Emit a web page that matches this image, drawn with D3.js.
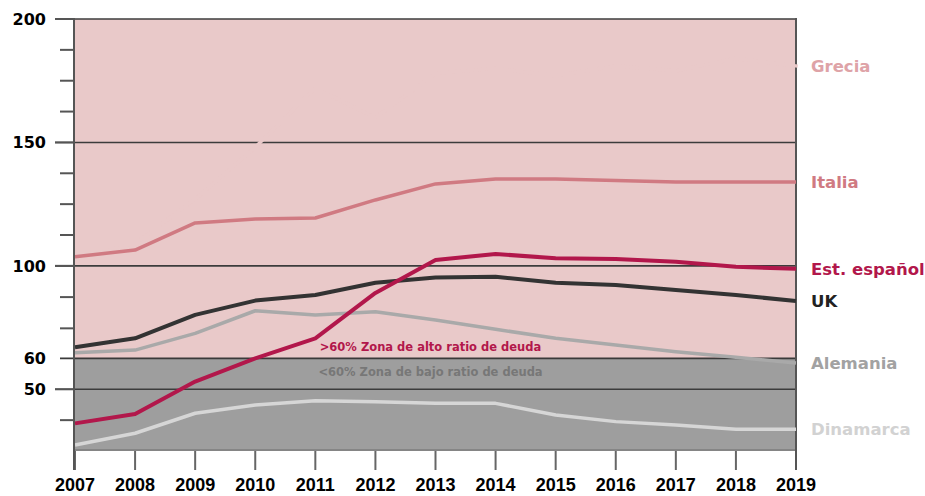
<!DOCTYPE html>
<html>
<head>
<meta charset="utf-8">
<script src="https://cdn.jsdelivr.net/npm/d3@7"></script>
<style>
  html, body { margin: 0; padding: 0; background: #fff; }
  svg { display: block; }
</style>
</head>
<body>
<svg id="chart" width="925" height="496"></svg>
<script>
// Deuda pública (% del PIB), 2007-2019
const years = [2007, 2008, 2009, 2010, 2011, 2012, 2013, 2014, 2015, 2016, 2017, 2018, 2019];
const yearLabels = ["2007", "2008", "2009", "2010", "2011", "2012", "2013", "2014", "2015", "2016", "2017", "2018", "2019"];

const grecia    = [103, 109, 127, 148, 172, 160, 178, 180, 177, 181, 179, 184, 181];
const italia    = [103.7, 106.4, 117.4, 119.0, 119.4, 126.7, 133.2, 135.2, 135.2, 134.6, 134.0, 134.0, 134.0];
const espana    = [36.2, 40.0, 52.5, 60.0, 68.7, 88.3, 102.4, 104.8, 103.1, 102.8, 101.7, 99.6, 98.7];
const uk        = [64.8, 68.7, 78.8, 85.0, 87.4, 92.7, 95.0, 95.3, 92.7, 91.7, 89.6, 87.4, 84.8];
const alemania  = [62.5, 63.6, 70.8, 80.6, 78.8, 80.2, 76.6, 72.6, 68.7, 65.8, 62.9, 60.5, 58.5];
const dinamarca = [27.4, 32.2, 40.3, 43.6, 45.4, 45.0, 44.3, 44.3, 39.6, 36.9, 35.5, 33.8, 33.8];

const seriesNames = ["Grecia", "Italia", "Est. español", "UK", "Alemania", "Dinamarca"];

// Eje vertical
const majorTicks = [200, 150, 100, 50];
const thresholdValue = 60;
const minorTicks = [37.5, 73, 86.5, 112.5, 125, 137.5, 162.5, 175, 187.5];
const zoneLabels = [">60% Zona de alto ratio de deuda", "<60% Zona de bajo ratio de deuda"];

(function () {
  const W = 925, H = 496;
  const margin = { top: 19, right: 129, bottom: 45, left: 75 };
  const pLeft = margin.left, pRight = W - margin.right;
  const pTop = margin.top, pBottom = H - margin.bottom;

  const svg = d3.select("#chart");

  const x = d3.scaleLinear().domain([years[0], years[years.length - 1]]).range([pLeft, pRight]);

  // Escala lineal con el umbral del 60% situado en la marca intermedia del eje
  const yBase = d3.scaleLinear().domain([25, 200]).range([pBottom, pTop]);
  const y = d3.scaleLinear()
    .domain([25, 50, 60, 100, 200])
    .range([yBase(25), yBase(50), yBase(62.5), yBase(100), yBase(200)]);

  const colors = {
    pink: "#e9c9c9",
    grey: "#9e9e9e",
    grid: "#3c3c3c",
    axis: "#555555"
  };

  // Zonas
  svg.append("rect")
    .attr("x", pLeft).attr("y", pTop)
    .attr("width", pRight - pLeft).attr("height", y(thresholdValue) - pTop)
    .attr("fill", colors.pink);
  svg.append("rect")
    .attr("x", pLeft).attr("y", y(thresholdValue))
    .attr("width", pRight - pLeft).attr("height", pBottom - y(thresholdValue))
    .attr("fill", colors.grey);

  // Líneas de referencia
  svg.selectAll("line.grid")
    .data(majorTicks)
    .join("line")
    .attr("class", "grid")
    .attr("x1", pLeft - 20).attr("x2", pRight)
    .attr("y1", d => y(d)).attr("y2", d => y(d))
    .attr("stroke", colors.grid).attr("stroke-width", 1.6);

  svg.append("line")
    .attr("x1", pLeft - 15).attr("x2", pRight)
    .attr("y1", y(thresholdValue)).attr("y2", y(thresholdValue))
    .attr("stroke", "#3a3a3a").attr("stroke-width", 1.8);

  svg.selectAll("line.minor")
    .data(minorTicks)
    .join("line")
    .attr("class", "minor")
    .attr("x1", pLeft - 15).attr("x2", pLeft)
    .attr("y1", d => y(d)).attr("y2", d => y(d))
    .attr("stroke", colors.axis).attr("stroke-width", 2);

  // Borde inferior del área
  svg.append("line")
    .attr("x1", pLeft).attr("x2", pRight)
    .attr("y1", pBottom - 1).attr("y2", pBottom - 1)
    .attr("stroke", "#7c7c7c").attr("stroke-width", 1.5);

  // Marcas del eje horizontal
  svg.selectAll("line.xtick")
    .data(years)
    .join("line")
    .attr("class", "xtick")
    .attr("x1", d => x(d)).attr("x2", d => x(d))
    .attr("y1", pBottom).attr("y2", pBottom + 19)
    .attr("stroke", "#666").attr("stroke-width", 2);

  // Borde derecho
  svg.append("line")
    .attr("x1", pRight).attr("x2", pRight)
    .attr("y1", pTop - 1).attr("y2", pBottom + 19)
    .attr("stroke", "#555").attr("stroke-width", 2);

  // Series
  const series = [
    { name: seriesNames[0], values: grecia,    stroke: colors.pink, label: "#dea3a7", width: 3.5, cap: "square" },
    { name: seriesNames[5], values: dinamarca, stroke: "#d6d6d6",   label: "#d2d2d2", width: 3.5, cap: "butt" },
    { name: seriesNames[4], values: alemania,  stroke: "#a9a9a9",   label: "#a2a2a2", width: 3.5, cap: "butt" },
    { name: seriesNames[1], values: italia,    stroke: "#d07a82",   label: "#d07a82", width: 3.5, cap: "butt" },
    { name: seriesNames[3], values: uk,        stroke: "#333333",   label: "#222222", width: 4,   cap: "butt" },
    { name: seriesNames[2], values: espana,    stroke: "#b2174b",   label: "#b2174b", width: 4,   cap: "butt" }
  ];

  const line = d3.line()
    .x((d, i) => x(years[i]))
    .y(d => y(d));

  svg.selectAll("path.serie")
    .data(series)
    .join("path")
    .attr("class", "serie")
    .attr("d", d => line(d.values))
    .attr("fill", "none")
    .attr("stroke", d => d.stroke)
    .attr("stroke-width", d => d.width)
    .attr("stroke-linecap", d => d.cap)
    .attr("stroke-linejoin", "round");

  // Eje vertical
  svg.append("line")
    .attr("x1", pLeft - 1).attr("x2", pLeft - 1)
    .attr("y1", pTop - 1).attr("y2", pBottom + 19)
    .attr("stroke", colors.axis).attr("stroke-width", 2);

  svg.selectAll("line.major")
    .data(majorTicks)
    .join("line")
    .attr("class", "major")
    .attr("x1", pLeft - 20).attr("x2", pLeft)
    .attr("y1", d => y(d)).attr("y2", d => y(d))
    .attr("stroke", colors.axis).attr("stroke-width", 2);

  svg.selectAll("text.ylab")
    .data(majorTicks.concat([thresholdValue]))
    .join("text")
    .attr("class", "ylab")
    .attr("x", pLeft - 29)
    .attr("y", d => y(d))
    .attr("dy", "0.36em")
    .attr("text-anchor", "end")
    .attr("font-family", "'DejaVu Sans', sans-serif")
    .attr("font-weight", "bold")
    .attr("font-size", 16)
    .attr("fill", "#000")
    .text(d => d);

  // Etiquetas de años
  svg.selectAll("text.xlab")
    .data(years)
    .join("text")
    .attr("class", "xlab")
    .attr("x", d => x(d))
    .attr("y", pBottom + 40)
    .attr("text-anchor", "middle")
    .attr("font-family", "'Liberation Sans', Arial, sans-serif")
    .attr("font-weight", "bold")
    .attr("font-size", 18)
    .attr("fill", "#000")
    .text((d, i) => yearLabels[i]);

  // Nombres de las series al final de cada línea
  svg.selectAll("text.slab")
    .data(series)
    .join("text")
    .attr("class", "slab")
    .attr("x", pRight + 15)
    .attr("y", d => y(d.values[d.values.length - 1]))
    .attr("dy", "0.36em")
    .attr("font-family", "'DejaVu Sans', sans-serif")
    .attr("font-weight", "bold")
    .attr("font-size", 16.5)
    .attr("fill", d => d.label)
    .text(d => d.name);

  // Rótulos de las zonas
  const zoneX = x(2013) - 5;
  svg.append("text")
    .attr("x", zoneX).attr("y", y(thresholdValue) - 12)
    .attr("dy", "0.36em")
    .attr("text-anchor", "middle")
    .attr("font-family", "'DejaVu Sans', sans-serif")
    .attr("font-weight", "bold")
    .attr("font-size", 11.5)
    .attr("fill", "#b2174b")
    .text(zoneLabels[0]);
  svg.append("text")
    .attr("x", zoneX).attr("y", y(thresholdValue) + 13)
    .attr("dy", "0.36em")
    .attr("text-anchor", "middle")
    .attr("font-family", "'DejaVu Sans', sans-serif")
    .attr("font-weight", "bold")
    .attr("font-size", 11.5)
    .attr("fill", "#777777")
    .text(zoneLabels[1]);
})();
</script>
</body>
</html>
